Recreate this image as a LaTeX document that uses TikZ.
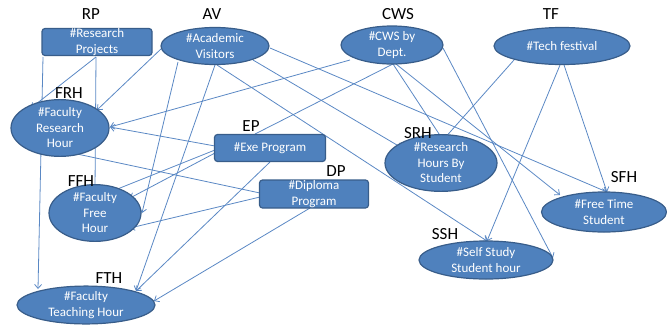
\documentclass[tikz,border=0pt]{standalone}
\usepackage{fontspec}
\setmainfont{Carlito}
\usetikzlibrary{shapes.geometric,arrows.meta,calc,backgrounds}
\definecolor{nodefill}{HTML}{4F81BD}
\definecolor{nodeline}{HTML}{385D8A}
\definecolor{conncol}{HTML}{5A88C4}
\begin{document}
\begin{tikzpicture}[x=1pt,y=-1pt,
  ell/.style={ellipse,fill=nodefill,draw=nodeline,line width=1.2pt,inner sep=0pt,
    text=white,align=center,font=\fontsize{13}{15.5}\selectfont},
  box/.style={rectangle,rounded corners=3pt,fill=nodefill,draw=nodeline,line width=1.2pt,
    inner sep=0pt,text=white,align=center,font=\fontsize{13}{15.5}\selectfont},
  tag/.style={font=\fontsize{17}{18}\selectfont,text=black,inner sep=0pt},
  plain/.style={draw=conncol,line width=0.8pt},
  link/.style={plain,-{Straight Barb[length=4pt,width=7pt]}}
]
\useasboundingbox (0,0) rectangle (667,325);

% nodes
\node[box,minimum width=110pt,minimum height=27pt] (RP) at (97,42) {\#Research\\Projects};
\node[ell,minimum width=108pt,minimum height=37pt] (AV) at (215,46) {\#Academic\\Visitors};
\node[ell,minimum width=102pt,minimum height=38pt] (CWS) at (392,45) {\#CWS by\\Dept.};
\node[ell,minimum width=136pt,minimum height=37pt] (TF) at (562,46) {\#Tech festival};
\node[ell,minimum width=98pt,minimum height=46pt] (FRH) at (60,128) {\#Faculty\\Research\\Hour};
\node[box,minimum width=111pt,minimum height=27pt] (EP) at (270,148) {\#Exe Program};
\node[box,minimum width=109pt,minimum height=28pt] (DP) at (314,194) {\#Diploma\\Program};
\node[ell,minimum width=92pt,minimum height=46pt] (FFH) at (95,213) {\#Faculty\\Free\\Hour};
\node[ell,minimum width=112pt,minimum height=46pt] (SRH) at (441,163) {\#Research\\Hours By\\Student};
\node[ell,minimum width=125pt,minimum height=40pt] (SFH) at (604,212) {\#Free Time\\Student};
\node[ell,minimum width=134pt,minimum height=38pt] (SSH) at (486,260) {\#Self Study\\Student hour};
\node[ell,minimum width=138pt,minimum height=34pt] (FTH) at (86,305) {\#Faculty\\Teaching Hour};

% labels
\node[tag] (lRP) at (91,14) {RP};
\node[tag] (lAV) at (212,14) {AV};
\node[tag] (lCWS) at (398,14) {CWS};
\node[tag] (lTF) at (551,14) {TF};
\node[tag] (lFRH) at (69,93) {FRH};
\node[tag] (lEP) at (251,126) {EP};
\node[tag] (lDP) at (336,171) {DP};
\node[tag] (lFFH) at (81,181) {FFH};
\node[tag] (lSRH) at (418,133) {SRH};
\node[tag] (lSFH) at (624,177) {SFH};
\node[tag] (lSSH) at (445,234) {SSH};
\node[tag] (lFTH) at (109,278) {FTH};

% connectors
\begin{scope}[on background layer]
\draw[link] ($(RP)+(-54,15)$) -- ($(FTH)+(-48,-16)$);
\draw[link] ($(RP)+(-1,15)$) -- ($(FRH)+(-29,-20)$);
\draw[link] ($(RP)+(-1,15)$) -- ($(FFH)+(0,-23)$);
\draw[link] ($(AV)+(-53,2)$) -- ($(FRH)+(37,-18)$);
\draw[link] ($(AV)+(-37,16)$) -- ($(FFH)+(47,0)$);
\draw[link] ($(AV)+(0,19)$) -- ($(FTH)+(50,-14)$);
\draw[link] ($(AV)+(38,14)$) -- ($(SRH)+(-39,-15)$);
\draw[link] ($(AV)+(2,19)$) -- ($(SSH)+(1,-19)$);
\draw[link] ($(AV)+(55,2)$) -- ($(SFH)+(3,-20)$);
\draw[link] ($(CWS)+(-42,15)$) -- ($(FRH)+(50,-1)$);
\draw[plain] ($(CWS)+(1,19)$) -- ($(EP)+(-15,-14)$);
\draw[link] ($(CWS)+(1,19)$) -- ($(SRH)+(2,-23)$);
\draw[link] ($(CWS)+(4,19)$) -- ($(SFH)+(-44,-17)$);
\draw[link] ($(CWS)+(51,3)$) -- ($(SSH)+(67,-2)$);
\draw[link] ($(TF)+(-48,14)$) -- ($(SRH)+(2,-23)$);
\draw[link] ($(TF)+(-2,19)$) -- ($(SSH)+(1,-19)$);
\draw[link] ($(TF)+(2,19)$) -- ($(SFH)+(3,-20)$);
\draw[link] ($(EP)+(-55,-2)$) -- ($(FRH)+(50,-1)$);
\draw[link] ($(EP)+(-55,2)$) -- ($(FFH)+(15,-21)$);
\draw[link] ($(EP)+(-55,5)$) -- ($(FFH)+(35,-15)$);
\draw[link] ($(EP)+(0,14)$) -- ($(FTH)+(50,-14)$);
\draw[link] ($(DP)+(-54,-1)$) -- ($(FRH)+(3,23)$);
\draw[link] ($(DP)+(-54,3)$) -- ($(FFH)+(35,15)$);
\draw[link] ($(DP)+(-4,14)$) -- ($(FTH)+(68,-4)$);
\end{scope}
\end{tikzpicture}
\end{document}
